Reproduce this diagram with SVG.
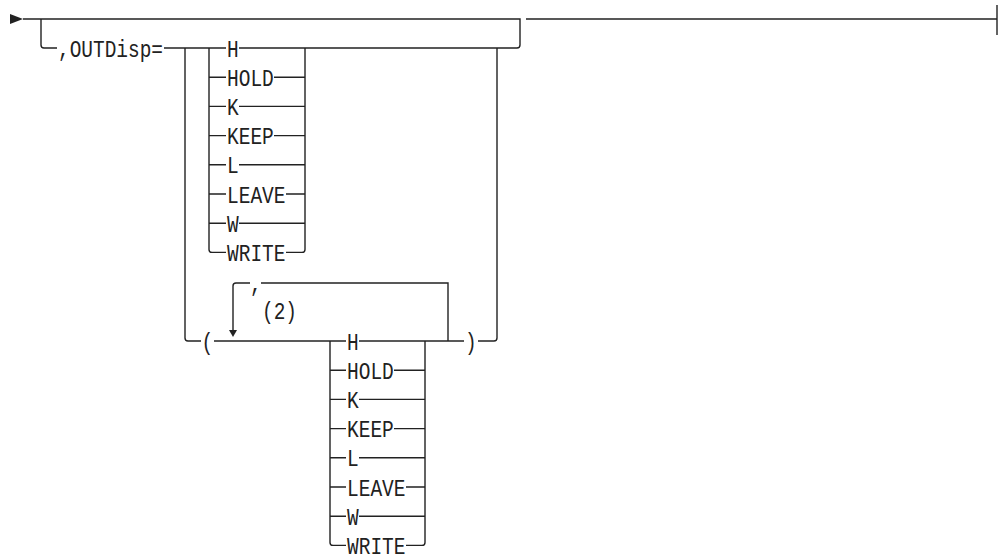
<svg xmlns="http://www.w3.org/2000/svg" width="999" height="556" viewBox="0 0 999 556">
<style>
  .ln { fill: none; stroke: #222; stroke-width: 1.4; }
  .t { font-family: "Liberation Mono", "DejaVu Sans Mono", monospace; font-size: 23px; fill: #222; }
  .arr { fill: #222; }
</style>
<rect width="999" height="556" fill="#fff"/>
<g id="connectors">
  <polygon class="arr" points="10,14 23,19 10,24"/>
  <path class="ln" d="M23,19 H520 V45 Q520,48 517,48 H239"/>
  <path class="ln" d="M526,19 H997 M997,5 V35"/>
  <path class="ln" d="M41,19 V45 Q41,48 44,48 H57"/>
  <path class="ln" d="M164,48 H226"/>
  <path class="ln" d="M185,48 V338 Q185,341 188,341 H201"/>
  <path class="ln" d="M214,341 H346"/>
  <path class="ln" d="M359,341 H464"/>
  <path class="ln" d="M478,341 H494 Q497,341 497,338 V48"/>
  <path class="ln" d="M448,341 V283 H261"/>
  <path class="ln" d="M250,283 H236 Q233,283 233,286 V330"/>
  <polygon class="arr" points="229,330 237,330 233,337"/>
  <!-- group 1 -->
  <path class="ln" d="M209,48 V249.4 Q209,252.4 212,252.4 H226"/>
  <path class="ln" d="M209,77.2 H226 M209,106.4 H226 M209,135.6 H226 M209,164.8 H226 M209,194 H226 M209,223.2 H226"/>
  <path class="ln" d="M305,48 V249.4 Q305,252.4 302,252.4 H286"/>
  <path class="ln" d="M274,77.2 H305 M239,106.4 H305 M274,135.6 H305 M239,164.8 H305 M286,194 H305 M239,223.2 H305"/>
  <!-- group 2 -->
  <path class="ln" d="M330,341 V542.4 Q330,545.4 333,545.4 H346"/>
  <path class="ln" d="M330,370.2 H346 M330,399.4 H346 M330,428.6 H346 M330,457.8 H346 M330,487 H346 M330,516.2 H346"/>
  <path class="ln" d="M425,341 V542.4 Q425,545.4 422,545.4 H406"/>
  <path class="ln" d="M394,370.2 H425 M359,399.4 H425 M394,428.6 H425 M359,457.8 H425 M406,487 H425 M359,516.2 H425"/>
</g>
<g id="outdisp"><text class="t" x="58" y="56.5" textLength="105" lengthAdjust="spacingAndGlyphs">,OUTDisp=</text></g>
<g id="g1-H"><text class="t" x="227" y="56.5" textLength="11.7" lengthAdjust="spacingAndGlyphs">H</text></g>
<g id="g1-HOLD"><text class="t" x="227" y="85.7" textLength="46.8" lengthAdjust="spacingAndGlyphs">HOLD</text></g>
<g id="g1-K"><text class="t" x="227" y="114.9" textLength="11.7" lengthAdjust="spacingAndGlyphs">K</text></g>
<g id="g1-KEEP"><text class="t" x="227" y="144.1" textLength="46.8" lengthAdjust="spacingAndGlyphs">KEEP</text></g>
<g id="g1-L"><text class="t" x="227" y="173.3" textLength="11.7" lengthAdjust="spacingAndGlyphs">L</text></g>
<g id="g1-LEAVE"><text class="t" x="227" y="202.5" textLength="58.5" lengthAdjust="spacingAndGlyphs">LEAVE</text></g>
<g id="g1-W"><text class="t" x="227" y="231.7" textLength="11.7" lengthAdjust="spacingAndGlyphs">W</text></g>
<g id="g1-WRITE"><text class="t" x="227" y="260.9" textLength="58.5" lengthAdjust="spacingAndGlyphs">WRITE</text></g>
<g id="lparen"><text class="t" x="201.5" y="349.5" textLength="11.7" lengthAdjust="spacingAndGlyphs">(</text></g>
<g id="rparen"><text class="t" x="465" y="349.5" textLength="11.7" lengthAdjust="spacingAndGlyphs">)</text></g>
<g id="loop-comma"><text class="t" x="250" y="291.5" textLength="11.7" lengthAdjust="spacingAndGlyphs">,</text></g>
<g id="note2"><text class="t" x="262" y="319" textLength="35" lengthAdjust="spacingAndGlyphs">(2)</text></g>
<g id="g2-H"><text class="t" x="347" y="349.5" textLength="11.7" lengthAdjust="spacingAndGlyphs">H</text></g>
<g id="g2-HOLD"><text class="t" x="347" y="378.7" textLength="46.8" lengthAdjust="spacingAndGlyphs">HOLD</text></g>
<g id="g2-K"><text class="t" x="347" y="407.9" textLength="11.7" lengthAdjust="spacingAndGlyphs">K</text></g>
<g id="g2-KEEP"><text class="t" x="347" y="437.1" textLength="46.8" lengthAdjust="spacingAndGlyphs">KEEP</text></g>
<g id="g2-L"><text class="t" x="347" y="466.3" textLength="11.7" lengthAdjust="spacingAndGlyphs">L</text></g>
<g id="g2-LEAVE"><text class="t" x="347" y="495.5" textLength="58.5" lengthAdjust="spacingAndGlyphs">LEAVE</text></g>
<g id="g2-W"><text class="t" x="347" y="524.7" textLength="11.7" lengthAdjust="spacingAndGlyphs">W</text></g>
<g id="g2-WRITE"><text class="t" x="347" y="553.6" textLength="58.5" lengthAdjust="spacingAndGlyphs">WRITE</text></g>
</svg>
